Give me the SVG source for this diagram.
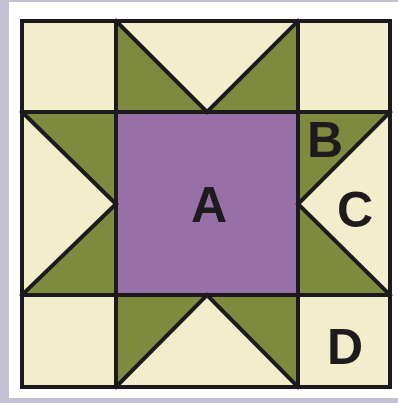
<svg xmlns="http://www.w3.org/2000/svg" width="398" height="403" viewBox="0 0 398 403">
<style>
.cream{fill:#f2edcb}
.green{fill:#7e8a3d}
.purple{fill:#9870a8}
.ln{stroke:#1c1a1c;stroke-width:4;fill:none;stroke-linecap:square;stroke-linejoin:miter}
.lbl{font-family:"Liberation Sans",Arial,sans-serif;font-weight:bold;font-size:50px;fill:#1e1a1e;text-anchor:middle}
</style>
<rect x="0" y="0" width="398" height="403" fill="#c3c1d3"/>
<rect x="9" y="2" width="389" height="396" fill="#ffffff"/>
<g id="corners">
<rect class="cream" x="22" y="21" width="94" height="91"/>
<rect class="cream" x="298" y="21" width="92" height="91"/>
<rect class="cream" x="22" y="295" width="94" height="92"/>
<rect class="cream" x="298" y="295" width="92" height="92"/>
</g>
<g id="top">
<polygon class="green" points="116,21 116,112 207,112"/>
<polygon class="green" points="298,21 298,112 207,112"/>
<polygon class="cream" points="116,21 298,21 207,112"/>
</g>
<g id="bottom">
<polygon class="green" points="116,387 116,295 207,295"/>
<polygon class="green" points="298,387 298,295 207,295"/>
<polygon class="cream" points="116,387 298,387 207,295"/>
</g>
<g id="left">
<polygon class="green" points="22,112 116,112 116,204"/>
<polygon class="green" points="22,295 116,295 116,204"/>
<polygon class="cream" points="22,112 22,295 116,204"/>
</g>
<g id="right">
<polygon class="green" points="390,112 298,112 298,204"/>
<polygon class="green" points="390,295 298,295 298,204"/>
<polygon class="cream" points="390,112 390,295 298,204"/>
</g>
<g id="center">
<rect class="purple" x="116" y="112" width="182" height="183"/>
</g>
<g id="lines" class="ln">
<rect x="22" y="21" width="368" height="366"/>
<line x1="116" y1="21" x2="116" y2="387"/>
<line x1="298" y1="21" x2="298" y2="387"/>
<line x1="22" y1="112" x2="390" y2="112"/>
<line x1="22" y1="295" x2="390" y2="295"/>
<polyline points="116,21 207,112 298,21"/>
<polyline points="116,387 207,295 298,387"/>
<polyline points="22,112 116,204 22,295"/>
<polyline points="390,112 298,204 390,295"/>
</g>
<g id="labels">
<text class="lbl" x="209" y="222">A</text>
<text class="lbl" x="325" y="157">B</text>
<text class="lbl" x="355" y="227">C</text>
<text class="lbl" x="345" y="364">D</text>
</g>
</svg>
